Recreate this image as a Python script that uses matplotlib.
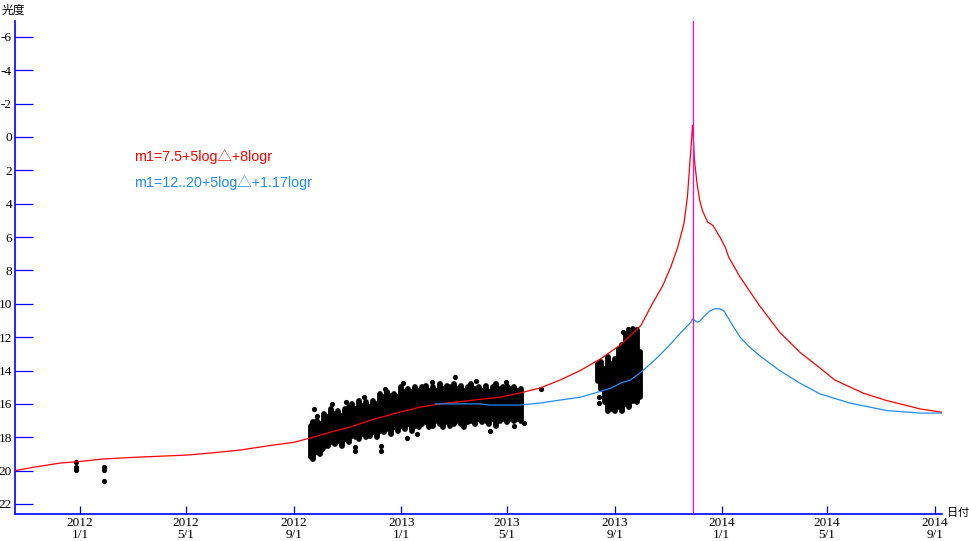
import numpy as np
import matplotlib
matplotlib.use('Agg')
import matplotlib.pyplot as plt

# ---------------- data ----------------
red_dates = ['2011-10-19', '2011-11-09', '2011-12-09', '2012-01-01', '2012-01-28', '2012-03-04',
             '2012-05-01', '2012-05-28', '2012-07-01', '2012-08-04', '2012-09-01', '2012-09-19',
             '2012-10-12', '2012-11-03', '2012-12-02', '2012-12-30', '2013-01-22', '2013-02-14',
             '2013-03-20', '2013-04-23', '2013-05-16', '2013-06-08', '2013-07-01', '2013-07-24',
             '2013-08-16', '2013-09-08', '2013-10-01', '2013-10-14', '2013-10-26', '2013-11-04',
             '2013-11-12', '2013-11-19', '2013-11-23', '2013-11-26', '2013-11-28T00', '2013-11-28T18',
             '2013-11-29T12', '2013-12-01', '2013-12-04', '2013-12-07', '2013-12-10', '2013-12-16',
             '2013-12-22', '2013-12-30', '2014-01-05', '2014-01-09', '2014-01-22', '2014-02-13',
             '2014-03-08', '2014-03-31', '2014-04-23', '2014-05-10', '2014-06-11', '2014-07-08',
             '2014-08-15', '2014-09-09']
red_mag = [20.0, 19.8, 19.55, 19.45, 19.3, 19.2,
           19.07, 18.95, 18.77, 18.5, 18.3, 18.05,
           17.7, 17.4, 16.9, 16.5, 16.2, 16.0,
           15.8, 15.6, 15.35, 15.05, 14.57, 14.0,
           13.3, 12.45, 11.3, 10.0, 8.9, 7.8,
           6.6, 5.2, 3.6, 1.4, 0.0, -0.7,
           -0.2, 1.4, 2.8, 3.8, 4.4, 5.1,
           5.3, 6.0, 6.6, 7.2, 8.4, 10.1,
           11.7, 12.9, 13.85, 14.57, 15.35, 15.8,
           16.3, 16.5]

blue_dates = ['2013-02-09', '2013-03-31', '2013-04-12', '2013-05-16', '2013-06-08', '2013-07-01',
              '2013-07-24', '2013-08-16', '2013-08-28', '2013-09-08', '2013-09-19', '2013-10-01',
              '2013-10-12', '2013-10-23', '2013-11-04', '2013-11-15', '2013-11-27', '2013-11-28T19',
              '2013-12-04', '2013-12-07', '2013-12-12', '2013-12-18', '2013-12-24', '2013-12-30',
              '2014-01-04', '2014-01-10', '2014-01-22', '2014-02-02', '2014-02-13', '2014-03-08',
              '2014-03-31', '2014-04-23', '2014-05-27', '2014-07-08', '2014-08-15', '2014-09-09']
blue_mag = [16.0, 16.0, 16.07, 16.07, 15.95, 15.77,
            15.6, 15.25, 15.05, 14.75, 14.57, 14.1,
            13.6, 13.05, 12.4, 11.75, 11.1, 10.9,
            11.1, 11.05, 10.75, 10.45, 10.3, 10.3,
            10.45, 11.0, 12.0, 12.6, 13.1, 14.0,
            14.75, 15.4, 15.95, 16.4, 16.55, 16.55]

# nightly observation ranges (brightest, faintest)
obs_col_dates = ['2012-09-20', '2012-09-23', '2012-09-27', '2012-10-01', '2012-10-05', '2012-10-09',
                 '2012-10-13', '2012-10-17', '2012-10-21', '2012-10-25', '2012-10-29', '2012-11-02',
                 '2012-11-06', '2012-11-10', '2012-11-14', '2012-11-18', '2012-11-22', '2012-11-26',
                 '2012-11-30', '2012-12-04', '2012-12-08', '2012-12-12', '2012-12-16', '2012-12-20',
                 '2012-12-24', '2012-12-28', '2013-01-01', '2013-01-05', '2013-01-09', '2013-01-13',
                 '2013-01-17', '2013-01-21', '2013-01-25', '2013-01-29', '2013-02-02', '2013-02-06',
                 '2013-02-10', '2013-02-14', '2013-02-18', '2013-02-22', '2013-02-26', '2013-03-02',
                 '2013-03-06', '2013-03-10', '2013-03-14', '2013-03-18', '2013-03-22', '2013-03-26',
                 '2013-03-30', '2013-04-03', '2013-04-07', '2013-04-11', '2013-04-15', '2013-04-19',
                 '2013-04-23', '2013-04-27', '2013-05-01', '2013-05-05', '2013-05-09', '2013-05-13',
                 '2013-05-17',
                 '2013-08-13', '2013-08-17', '2013-08-21', '2013-08-25', '2013-08-29', '2013-09-02',
                 '2013-09-06', '2013-09-10', '2013-09-14', '2013-09-18', '2013-09-22', '2013-09-26',
                 '2013-09-30']
obs_col_bright = [17.3, 17.1, 17.0, 17.2, 16.6, 16.8,
                  16.3, 16.6, 16.4, 16.7, 16.3, 16.2,
                  16.0, 16.3, 15.8, 16.1, 15.9, 16.2,
                  15.8, 16.0, 15.4, 15.6, 15.3, 15.5,
                  15.4, 15.6, 15.0, 15.3, 15.1, 15.3,
                  15.0, 15.2, 15.0, 14.9, 15.2, 15.0,
                  15.2, 14.8, 15.1, 14.9, 15.0, 14.8,
                  15.1, 14.9, 15.2, 15.0, 14.8, 15.1,
                  15.0, 15.2, 14.9, 15.3, 15.0, 14.8,
                  15.1, 15.0, 14.9, 15.1, 15.0, 15.2,
                  15.1,
                  13.6, 13.5, 13.9, 13.2, 13.6, 13.3,
                  12.7, 12.5, 11.9, 11.7, 11.5, 11.6,
                  12.9]
obs_col_faint = [19.2, 19.3, 18.9, 19.0, 18.6, 18.5,
                 18.3, 18.4, 18.2, 18.5, 18.1, 18.3,
                 17.9, 18.0, 18.1, 17.8, 18.0, 17.9,
                 17.7, 18.0, 17.6, 17.7, 17.5, 17.8,
                 17.4, 17.6, 17.3, 17.5, 17.2, 17.6,
                 17.3, 17.4, 17.2, 17.1, 17.4, 17.3,
                 17.0, 17.2, 17.4, 17.1, 17.3, 17.2,
                 17.0, 17.2, 17.4, 17.1, 17.0, 17.2,
                 16.9, 17.1, 17.0, 17.2, 16.9, 17.3,
                 17.0, 16.9, 17.1, 16.9, 17.0, 16.9,
                 17.0,
                 14.6, 15.1, 15.9, 16.4, 16.3, 16.4,
                 16.2, 16.4, 16.0, 16.2, 15.8, 15.9,
                 15.6]

# single observations
obs_pt_dates = ['2011-12-28', '2011-12-28', '2011-12-28', '2012-01-28', '2012-01-28', '2012-01-28',
                '2012-09-24', '2012-09-27', '2012-10-14', '2012-11-09', '2012-11-09', '2012-12-09',
                '2012-12-09', '2013-01-03', '2013-01-07', '2013-03-03', '2013-04-12', '2013-05-21',
                '2013-06-09', '2013-08-14', '2013-08-14', '2013-09-11', '2013-09-16', '2013-09-21',
                '2012-10-30', '2012-11-20', '2012-12-14', '2013-02-05', '2013-03-27', '2013-04-30',
                '2013-05-10', '2012-10-03', '2013-01-19']
obs_pt_mag = [19.5, 19.8, 19.95, 19.8, 19.95, 20.6,
              16.3, 16.7, 16.0, 18.6, 18.85, 18.5,
              18.8, 14.75, 18.05, 14.4, 17.6, 17.15,
              15.1, 15.6, 15.95, 11.7, 11.5, 12.2,
              15.9, 15.6, 15.1, 14.7, 14.65, 14.7,
              17.35, 18.7, 17.8]

perihelion = '2013-11-28T19'

xtick_dates = ['2012-01-01', '2012-05-01', '2012-09-01', '2013-01-01', '2013-05-01',
               '2013-09-01', '2014-01-01', '2014-05-01', '2014-09-01']
xtick_labels = ['2012\n1/1', '2012\n5/1', '2012\n9/1', '2013\n1/1', '2013\n5/1',
                '2013\n9/1', '2014\n1/1', '2014\n5/1', '2014\n9/1']
ytick_values = [-6, -4, -2, 0, 2, 4, 6, 8, 10, 12, 14, 16, 18, 20, 22]
ytick_labels = ['-6', '-4', '-2', '0', '2', '4', '6', '8', '10', '12', '14', '16', '18', '20', '22']

red_label = 'm1=7.5+5log△+8logr'
blue_label = 'm1=12..20+5log△+1.17logr'

# ---------------- plot ----------------
def d(a):
    return np.array(a, dtype='datetime64[m]')

plt.rcParams['font.family'] = ['Liberation Serif', 'DejaVu Sans', 'Noto Sans CJK JP']

W, H = 970, 541
fig = plt.figure(figsize=(W / 100, H / 100), dpi=100)
ax = fig.add_axes([15 / W, (H - 514) / H, (942 - 15) / W, (514 - 21) / H])

ax.vlines(d(obs_col_dates), obs_col_bright, obs_col_faint, colors='black',
          linewidth=4.2, capstyle='round', zorder=2)
ax.scatter(d(obs_pt_dates), obs_pt_mag, s=14, c='black', linewidths=0, zorder=2)

ax.plot(d(red_dates), red_mag, color='#ff0000', lw=0.9, zorder=3)
ax.plot(d(blue_dates), blue_mag, color='#1e8cff', lw=0.9, zorder=3)
ax.axvline(d([perihelion])[0], color='#ff00ff', lw=0.9, zorder=4)

ax.set_xlim(d(['2011-10-19'])[0], d(['2014-09-09'])[0])
ax.set_ylim(22.6, -6.95)

for s in ['top', 'right']:
    ax.spines[s].set_visible(False)
for s in ['left', 'bottom']:
    ax.spines[s].set_color('#0000ff')
    ax.spines[s].set_linewidth(1.2)

ax.set_yticks(ytick_values)
ax.set_yticklabels(ytick_labels)
ax.set_xticks(d(xtick_dates))
ax.set_xticklabels(xtick_labels, linespacing=0.9)
ax.tick_params(axis='y', direction='in', length=13, width=0.9, color='#0000ff',
               pad=2.2, labelsize=9.5, labelcolor='black')
ax.tick_params(axis='x', direction='in', length=6, width=0.9, color='#0000ff',
               pad=2.5, labelsize=9.5, labelcolor='black')

fig.text(134 / W, 1 - 157 / H, red_label, color='#ff0000', fontsize=10.3, va='center', ha='left',
         family=['Liberation Sans', 'Noto Sans CJK JP'])
fig.text(134 / W, 1 - 183 / H, blue_label, color='#1e8cff', fontsize=10.3, va='center', ha='left',
         family=['Liberation Sans', 'Noto Sans CJK JP'])
fig.text(2 / W, 1 - 10 / H, '光度', fontsize=8.5, va='center', ha='left',
         family=['Noto Sans CJK JP'])
fig.text(947 / W, 1 - 513 / H, '日付', fontsize=8, va='center', ha='left',
         family=['Noto Sans CJK JP'])

fig.savefig('out.png', dpi=100, facecolor='white')
